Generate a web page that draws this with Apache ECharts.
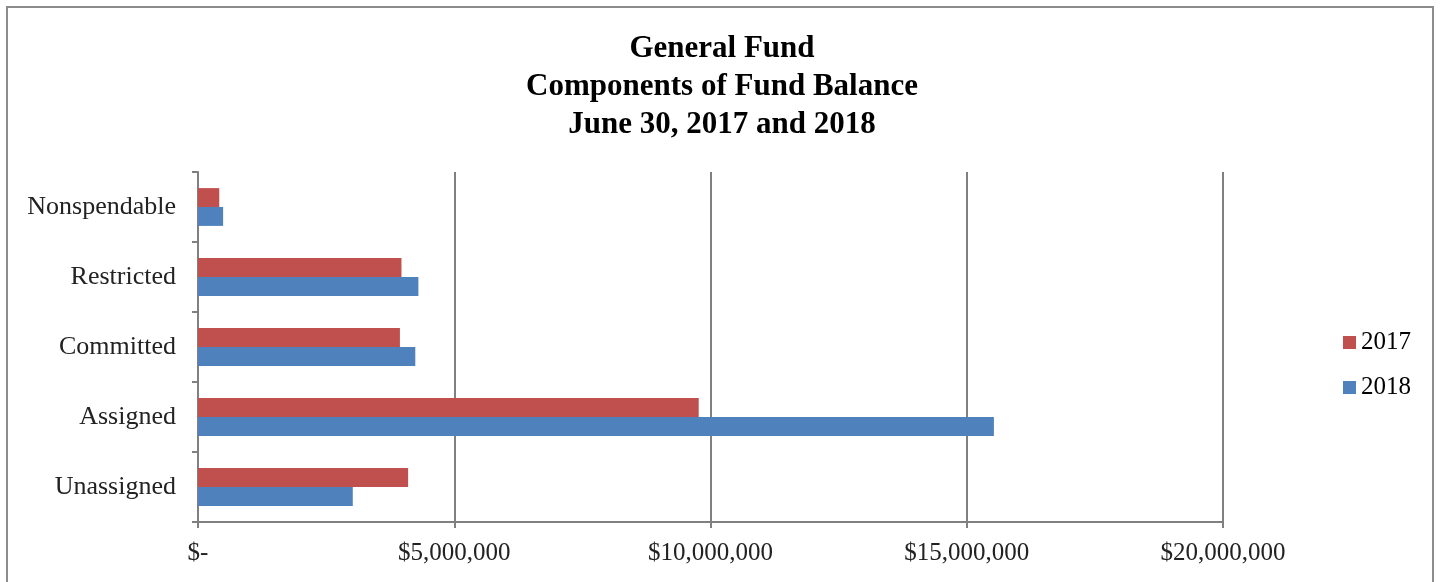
<!DOCTYPE html>
<html>
<head>
<meta charset="utf-8">
<script src="https://cdn.jsdelivr.net/npm/echarts@6/dist/echarts.min.js"></script>
<style>
  html, body { margin: 0; padding: 0; background: #fff; }
  #frame { position: absolute; left: 6px; top: 6px; width: 1428px; height: 600px; border: 2px solid #8c8c8c; box-sizing: border-box; }
  #chart { position: absolute; left: 0; top: 0; width: 1444px; height: 582px; }
</style>
</head>
<body>
<div id="frame"></div>
<div id="chart"></div>
<script>
  // bottom to top, as drawn
  const categories = ['Unassigned', 'Assigned', 'Committed', 'Restricted', 'Nonspendable']
  const values2017 = [4100000, 9770000, 3940000, 3970000, 415000]
  const values2018 = [3020000, 15530000, 4240000, 4300000, 490000]
  const tickLabels = ['$-', '$5,000,000', '$10,000,000', '$15,000,000', '$20,000,000']

  const font = '"Liberation Serif", "Times New Roman", serif'
  const chart = echarts.init(document.getElementById('chart'))
  chart.setOption({
    animation: false,
    title: {
      text: 'General Fund\nComponents of Fund Balance\nJune 30, 2017 and 2018',
      left: 'center',
      top: 25,
      textStyle: { fontFamily: font, fontSize: 31, fontWeight: 'bold', color: '#000', lineHeight: 38 }
    },
    legend: {
      orient: 'vertical',
      left: 1338,
      top: 325,
      itemWidth: 13,
      itemHeight: 13,
      itemGap: 20,
      icon: 'rect',
      textStyle: { fontFamily: font, fontSize: 25, color: '#000' },
      data: ['2017', '2018']
    },
    grid: { left: 198, right: 221, top: 172, bottom: 60, containLabel: false },
    xAxis: {
      type: 'value',
      min: 0,
      max: 20000000,
      interval: 5000000,
      axisLine: { show: true, lineStyle: { color: '#808080', width: 2 } },
      axisTick: { show: true, length: 6, lineStyle: { color: '#808080', width: 2 } },
      splitLine: { show: true, lineStyle: { color: '#808080', width: 2 } },
      axisLabel: {
        fontFamily: font, fontSize: 25, color: '#222', margin: 19,
        formatter: function (v) { return tickLabels[Math.round(v / 5000000)] }
      }
    },
    yAxis: {
      type: 'category',
      data: categories,
      axisLine: { show: true, lineStyle: { color: '#808080', width: 2 } },
      axisTick: { show: true, length: 6, lineStyle: { color: '#808080', width: 2 } },
      axisLabel: { fontFamily: font, fontSize: 26, color: '#222', margin: 22 }
    },
    series: [
      {
        name: '2017', type: 'bar', data: values2017,
        itemStyle: { color: '#c0504d' },
        barGap: '0%', barCategoryGap: '46%'
      },
      {
        name: '2018', type: 'bar', data: values2018,
        itemStyle: { color: '#4f81bd' },
        barGap: '0%', barCategoryGap: '46%'
      }
    ]
  })
</script>
</body>
</html>
